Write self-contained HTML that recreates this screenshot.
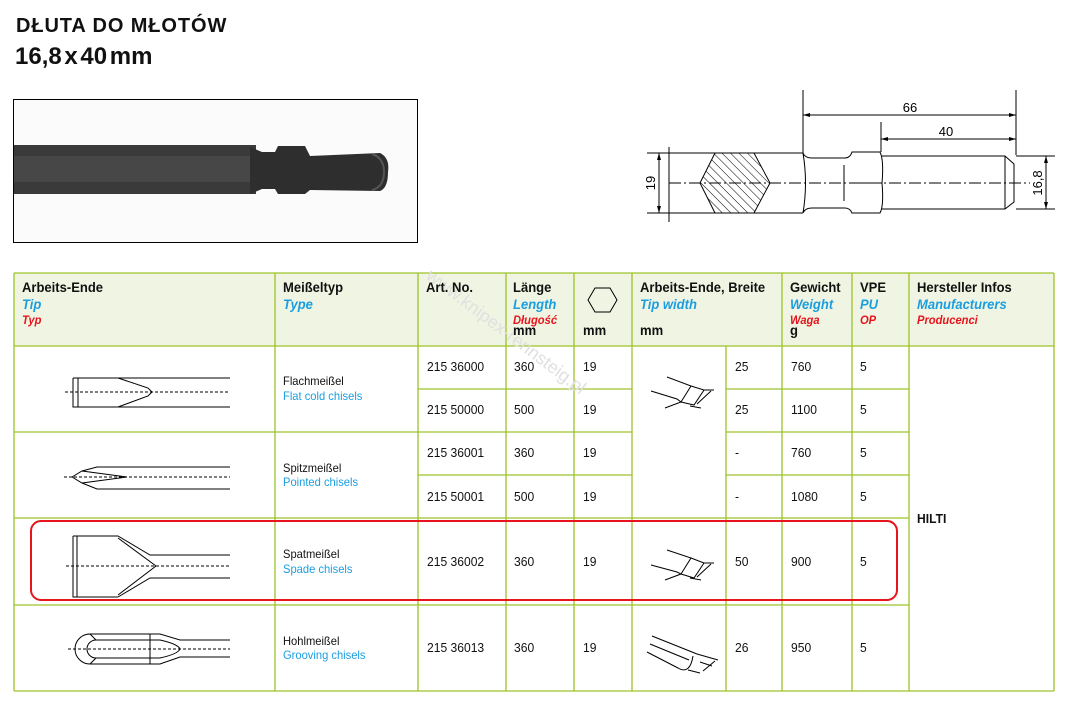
<!DOCTYPE html>
<html><head><meta charset="utf-8">
<style>
*{margin:0;padding:0;box-sizing:border-box}
body{width:1066px;height:704px;background:#fff;position:relative;overflow:hidden;font-family:"Liberation Sans Narrow","Liberation Sans",sans-serif;color:#111}
.a{position:absolute;white-space:nowrap;transform-origin:0 0}
.h{font-weight:bold;font-size:14px;transform:scaleX(0.93)}
.b{color:#1a9ee0;font-style:italic;font-weight:bold;font-size:14px;transform:scaleX(0.93)}
.r{color:#e8141c;font-style:italic;font-weight:bold;font-size:12px;transform:scaleX(0.93)}
.t{font-size:13px;transform:scaleX(0.93)}
.ty{font-size:12px;transform:scaleX(0.93)}
.bl{color:#1a9ee0}
</style></head><body>
<div class="a" style="left:16px;top:15px;font:bold 20px 'Liberation Sans',sans-serif;letter-spacing:0.9px">DŁUTA DO MŁOTÓW</div>
<div class="a" style="left:15px;top:43px;font:bold 24px 'Liberation Sans',sans-serif;word-spacing:-4px">16,8 x 40 mm</div>

<svg class="a" style="left:0;top:0" width="1066" height="704">
<rect x="13.5" y="99.5" width="404" height="143" fill="#fbfbfb" stroke="#000"/>
<rect x="14" y="145" width="242" height="49" fill="#3a3a3a"/>
<rect x="14" y="156" width="242" height="26" fill="#474747"/>
<path d="M250 147 L262 152 L275 152 L278 146 L305 146 L310 156 L380 153 Q390 158 388 172 Q388 188 380 191 L310 190 L305 194 L278 194 L275 189 L262 189 L250 194 Z" fill="#2e2e2e"/>
<path d="M372 154 Q384 158 384 172 Q384 187 372 190" fill="none" stroke="#555" stroke-width="2"/>
<g stroke="#000" stroke-width="1" fill="none">
<line x1="669" y1="147" x2="669" y2="222"/>
<line x1="647" y1="153" x2="803" y2="153"/><line x1="647" y1="213" x2="803" y2="213"/>
<path d="M700 183 L715 153 L754 153 L770 183 L754 213 L715 213 Z" fill="url(#hatch)"/>
<path d="M803 153 Q805 158 812 158 L845 158 Q850 158 852 152 L880 152 Q884 160 882 183 Q884 206 880 213 L852 213 Q850 208 845 208 L812 208 Q805 208 803 213 Q808 183 803 153"/>
<line x1="852" y1="183" x2="882" y2="183"/>
<line x1="844" y1="165" x2="844" y2="201"/>
<path d="M882 156 L1005 156 L1014 164 L1014 202 L1005 209 L882 209"/>
<line x1="1005" y1="156" x2="1005" y2="209"/>
<line x1="803" y1="90" x2="803" y2="153"/><line x1="1016" y1="90" x2="1016" y2="155"/>
<line x1="881" y1="122" x2="881" y2="152"/>
<line x1="803" y1="115" x2="1016" y2="115"/><line x1="881" y1="139" x2="1016" y2="139"/>
<line x1="659" y1="153" x2="659" y2="213"/>
<line x1="1016" y1="156" x2="1055" y2="156"/><line x1="1016" y1="209" x2="1055" y2="209"/>
<line x1="1046" y1="156" x2="1046" y2="209"/>
<line x1="669" y1="183" x2="1030" y2="183" stroke-dasharray="12,3,2,3"/>
</g>
<defs><pattern id="hatch" width="6" height="6" patternUnits="userSpaceOnUse" patternTransform="rotate(-45)"><line x1="0" y1="0" x2="0" y2="6" stroke="#000" stroke-width="1"/></pattern></defs>
<g fill="#000">
<path d="M803 115 l7 -2 v4z"/><path d="M1016 115 l-7 -2 v4z"/>
<path d="M881 139 l7 -2 v4z"/><path d="M1016 139 l-7 -2 v4z"/>
<path d="M659 153 l-2 7 h4z"/><path d="M659 213 l-2 -7 h4z"/>
<path d="M1046 156 l-2 7 h4z"/><path d="M1046 209 l-2 -7 h4z"/>
</g>
<text x="910" y="112" font-family="Liberation Sans" font-size="13" text-anchor="middle">66</text>
<text x="946" y="136" font-family="Liberation Sans" font-size="13" text-anchor="middle">40</text>
<text transform="translate(655,183) rotate(-90)" font-family="Liberation Sans" font-size="13" text-anchor="middle">19</text>
<text transform="translate(1042,183) rotate(-90)" font-family="Liberation Sans" font-size="13" text-anchor="middle">16,8</text>

<rect x="14" y="273" width="1040" height="73" fill="#f0f5e3"/>
<g stroke="#9dc32a" stroke-width="1.3">
<line x1="14" y1="273" x2="1054" y2="273"/>
<line x1="14" y1="346" x2="1054" y2="346"/>
<line x1="14" y1="432" x2="632" y2="432"/><line x1="726" y1="432" x2="909" y2="432"/>
<line x1="14" y1="518" x2="909" y2="518"/>
<line x1="14" y1="605" x2="909" y2="605"/>
<line x1="14" y1="691" x2="1054" y2="691"/>
<line x1="418" y1="389" x2="632" y2="389"/><line x1="726" y1="389" x2="909" y2="389"/>
<line x1="418" y1="475" x2="632" y2="475"/><line x1="726" y1="475" x2="909" y2="475"/>
<line x1="14" y1="273" x2="14" y2="691"/>
<line x1="275" y1="273" x2="275" y2="691"/>
<line x1="418" y1="273" x2="418" y2="691"/>
<line x1="506" y1="273" x2="506" y2="691"/>
<line x1="574" y1="273" x2="574" y2="691"/>
<line x1="632" y1="273" x2="632" y2="691"/>
<line x1="726" y1="346" x2="726" y2="691"/>
<line x1="782" y1="273" x2="782" y2="691"/>
<line x1="852" y1="273" x2="852" y2="691"/>
<line x1="909" y1="273" x2="909" y2="691"/>
<line x1="1054" y1="273" x2="1054" y2="691"/>
</g>
<polygon points="588,300 595,288 610,288 617,300 610,312 595,312" fill="none" stroke="#000"/>
<text transform="translate(425,278) rotate(37)" font-family="Liberation Sans" font-size="18" fill="#e0e0e0">www.knipex-rennsteig.pl</text>

<g stroke="#000" stroke-width="1" fill="none">
<path d="M73 378 L73 407 L118 407 M73 378 L118 378 L230 378 M118 407 L230 407 M78 378 L78 407 M118 378 L148 388 L152 392 L148 396 L118 407"/>
<line x1="65" y1="392" x2="230" y2="392" stroke-dasharray="3,2"/>
<path d="M72 477 L82 471 L97 467 L230 467 M72 477 L82 483 L97 489 L230 489 M82 471 L127 477 L82 483"/>
<line x1="64" y1="477" x2="230" y2="477" stroke-dasharray="3,2"/>
<path d="M73 536 L73 597 L118 597 M73 536 L118 536 L150 555 L230 555 M118 597 L150 578 L230 578 M77 536 L77 597 M118 538 L156 566 L118 595"/>
<line x1="66" y1="566" x2="230" y2="566" stroke-dasharray="3,2"/>
<path d="M90 634 L160 634 L180 640 L230 640 M90 664 L160 664 L180 657 L230 657 M90 634 A15 15 0 0 0 90 664 M96 640 L160 640 Q178 644 180 649 Q178 654 160 658 L96 658 A9 9 0 0 1 96 640 M90 634 L96 640 M90 664 L96 658 M150 634 L150 664"/>
<line x1="68" y1="649" x2="230" y2="649" stroke-dasharray="3,2"/>
<path d="M667 377 L691 386 L681 402 M651 391 L677 399 L681 402 L665 408 M691 386 L704 390 L694 405 L681 402 M704 390 L714 390 M690 406 L701 408 M711 391 L697 404"/>
<path d="M667 550 L691 558 L681 574 M651 565 L677 572 L681 574 L665 580 M691 558 L704 563 L694 578 L681 574 M704 563 L714 563 M690 578 L701 580 M711 564 L697 577"/>
<path d="M652 636 L697 654 M650 644 L689 660 M647 652 L678 668 Q690 675 693 656 M697 654 L718 660 M700 662 L712 666 M688 670 L700 673 M715 661 L703 671"/>
</g>
<rect x="31" y="521" width="866" height="79" rx="10" fill="none" stroke="#e8141c" stroke-width="2"/>
</svg>

<div class="a h" style="left:22px;top:279px">Arbeits-Ende</div>
<div class="a b" style="left:22px;top:296px">Tip</div>
<div class="a r" style="left:22px;top:313px">Typ</div>
<div class="a h" style="left:283px;top:279px">Meißeltyp</div>
<div class="a b" style="left:283px;top:296px">Type</div>
<div class="a h" style="left:426px;top:279px">Art. No.</div>
<div class="a h" style="left:513px;top:279px">Länge</div>
<div class="a b" style="left:513px;top:296px">Length</div>
<div class="a r" style="left:513px;top:313px">Długość</div>
<div class="a h" style="left:513px;top:322px">mm</div>
<div class="a h" style="left:583px;top:322px">mm</div>
<div class="a h" style="left:640px;top:279px">Arbeits-Ende, Breite</div>
<div class="a b" style="left:640px;top:296px">Tip width</div>
<div class="a h" style="left:640px;top:322px">mm</div>
<div class="a h" style="left:790px;top:279px">Gewicht</div>
<div class="a b" style="left:790px;top:296px">Weight</div>
<div class="a r" style="left:790px;top:313px">Waga</div>
<div class="a h" style="left:790px;top:322px">g</div>
<div class="a h" style="left:860px;top:279px">VPE</div>
<div class="a b" style="left:860px;top:296px">PU</div>
<div class="a r" style="left:860px;top:313px">OP</div>
<div class="a h" style="left:917px;top:279px">Hersteller Infos</div>
<div class="a b" style="left:917px;top:296px">Manufacturers</div>
<div class="a r" style="left:917px;top:313px">Producenci</div>

<div class="a ty" style="left:283px;top:374px">Flachmeißel</div>
<div class="a ty bl" style="left:283px;top:389px">Flat cold chisels</div>
<div class="a ty" style="left:283px;top:461px">Spitzmeißel</div>
<div class="a ty bl" style="left:283px;top:475px">Pointed chisels</div>
<div class="a ty" style="left:283px;top:547px">Spatmeißel</div>
<div class="a ty bl" style="left:283px;top:562px">Spade chisels</div>
<div class="a ty" style="left:283px;top:634px">Hohlmeißel</div>
<div class="a ty bl" style="left:283px;top:648px">Grooving chisels</div>

<div class="a t" style="left:427px;top:359px">215 36000</div><div class="a t" style="left:514px;top:359px">360</div><div class="a t" style="left:583px;top:359px">19</div><div class="a t" style="left:735px;top:359px">25</div><div class="a t" style="left:791px;top:359px">760</div><div class="a t" style="left:860px;top:359px">5</div>
<div class="a t" style="left:427px;top:402px">215 50000</div><div class="a t" style="left:514px;top:402px">500</div><div class="a t" style="left:583px;top:402px">19</div><div class="a t" style="left:735px;top:402px">25</div><div class="a t" style="left:791px;top:402px">1100</div><div class="a t" style="left:860px;top:402px">5</div>
<div class="a t" style="left:427px;top:445px">215 36001</div><div class="a t" style="left:514px;top:445px">360</div><div class="a t" style="left:583px;top:445px">19</div><div class="a t" style="left:735px;top:445px">-</div><div class="a t" style="left:791px;top:445px">760</div><div class="a t" style="left:860px;top:445px">5</div>
<div class="a t" style="left:427px;top:489px">215 50001</div><div class="a t" style="left:514px;top:489px">500</div><div class="a t" style="left:583px;top:489px">19</div><div class="a t" style="left:735px;top:489px">-</div><div class="a t" style="left:791px;top:489px">1080</div><div class="a t" style="left:860px;top:489px">5</div>
<div class="a t" style="left:427px;top:554px">215 36002</div><div class="a t" style="left:514px;top:554px">360</div><div class="a t" style="left:583px;top:554px">19</div><div class="a t" style="left:735px;top:554px">50</div><div class="a t" style="left:791px;top:554px">900</div><div class="a t" style="left:860px;top:554px">5</div>
<div class="a t" style="left:427px;top:640px">215 36013</div><div class="a t" style="left:514px;top:640px">360</div><div class="a t" style="left:583px;top:640px">19</div><div class="a t" style="left:735px;top:640px">26</div><div class="a t" style="left:791px;top:640px">950</div><div class="a t" style="left:860px;top:640px">5</div>
<div class="a h" style="left:917px;top:511px;font-size:13px">HILTI</div>
</body></html>
